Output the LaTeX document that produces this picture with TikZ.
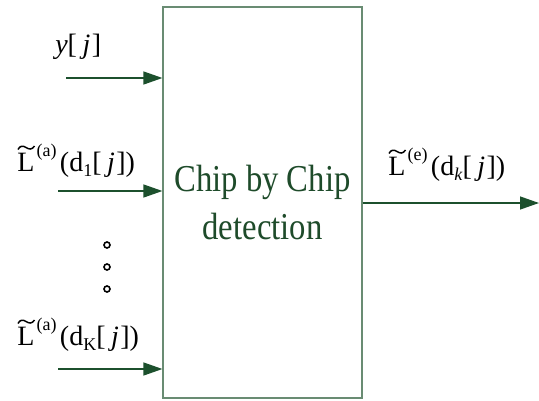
\documentclass[tikz,border=0pt]{standalone}
\usepackage{fontspec}
\setmainfont{Liberation Serif}
\newfontfamily\chipfont{Liberation Serif}[FakeStretch=0.86]
\usetikzlibrary{arrows.meta}
\definecolor{boxline}{RGB}{105,140,115}
\definecolor{arrline}{RGB}{28,80,45}
\definecolor{chiptext}{RGB}{30,75,42}
\newcommand{\hisup}[1]{\kern0.08em\raisebox{0.52em}{\fontsize{13.5}{14}\selectfont #1}\kern0.12em}
\newcommand{\losub}[1]{\raisebox{-0.2em}{\fontsize{13.5}{14}\selectfont #1}}
\tikzset{
  arr/.style={draw=arrline, line width=1pt, -{Triangle[length=19pt*0.75, width=13pt*0.75]}},
  lbl/.style={anchor=base west, inner sep=0pt, font=\fontsize{21}{24}\selectfont},
  dotc/.style={circle, draw=black, line width=1.2pt, inner sep=0pt, minimum size=6pt*0.75},
  tildestroke/.style={draw=black, line width=1.1pt}
}
\begin{document}
\begin{tikzpicture}[x=0.75pt, y=-0.75pt]
\useasboundingbox (0,0) rectangle (539,400);
\node[draw=boxline, line width=0.9pt, text=chiptext, align=center,
      minimum width=199*0.75pt, minimum height=391*0.75pt, inner sep=0pt,
      font=\chipfont\fontsize{28.5}{36}\selectfont] (det) at (262.5,202.5)
      {Chip by Chip\\detection};
% input free ends
\coordinate (iny) at (66,78);
\coordinate (ina) at (58,191);
\coordinate (ink) at (58,369);
\coordinate (outend) at (539,203);
\draw[arr] (iny) -- (iny -| det.west);
\draw[arr] (ina) -- (ina -| det.west);
\draw[arr] (ink) -- (ink -| det.west);
\draw[arr] (outend -| det.east) -- (outend);
% labels
\node[lbl] (ly) at (55,53) {\textit{y}[\kern0.2em\textit{j}\kern0.05em]};
\node[lbl] (la) at (17,171) {L\hisup{(a)}(d\losub{1}[\kern0.2em\textit{j}\kern0.05em])};
\node[lbl] (lk) at (17,345) {L\hisup{(a)}(d\losub{K}[\kern0.2em\textit{j}\kern0.05em])};
\node[lbl] (le) at (388,175) {L\hisup{(e)}(d\losub{\textit{k}}[\kern0.2em\textit{j}\kern0.05em])};
% tildes over L
\foreach \n in {la,lk,le}{
  \draw[tildestroke, shift={(\n.base west)}] (1,-21.5) .. controls (3,-25.5) and (6,-25.5) .. (9,-23.5)
    .. controls (12,-21.5) and (15,-21) .. (17.5,-25);
}
% dots
\node[dotc] (d1) at (107,245) {};
\node[dotc] (d2) at (107,267) {};
\node[dotc] (d3) at (107,289) {};
\end{tikzpicture}
\end{document}
